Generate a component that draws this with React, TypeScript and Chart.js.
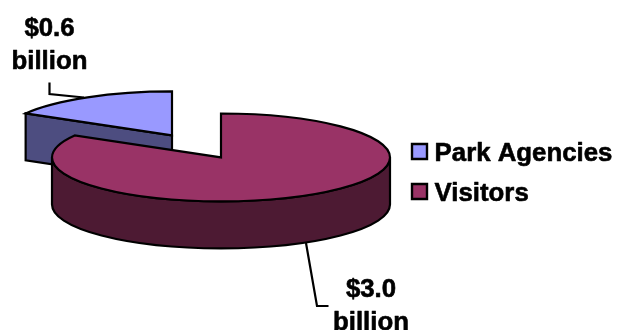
import React, { useEffect, useRef } from "react";
import { Chart, registerables } from "chart.js";

Chart.register(...registerables);

const categories = ["Park Agencies", "Visitors"];
const billions = [0.6, 3.0];
const topColors = ["#9999FF", "#993366"];
const wallColors = ["#4D4D80", "#4D1A33"];

const WIDTH = 617;
const HEIGHT = 330;
const FONT = "bold 25.8px 'Liberation Sans', Arial, sans-serif";
const INK = "#000000";
const LINE = 2.2;

// Projection of the flat pie onto a tilted disc
const RADIUS = 169;
const SQUASH = 0.26;
const EXPLODE = 49;
const DEPTH = 47;
const PIE_X = 196.5;
const PIE_Y = 146.4;
const TAU = Math.PI * 2;

type Slice = { cx: number; cy: number; start: number; end: number };

function sliceFrame(arc: any): Slice {
  const { startAngle: start, endAngle: end } = arc;
  const mid = (start + end) / 2;
  return {
    cx: PIE_X + Math.cos(mid) * EXPLODE,
    cy: PIE_Y + Math.sin(mid) * EXPLODE * SQUASH,
    start,
    end,
  };
}

function rimPoint(s: Slice, angle: number) {
  return { x: s.cx + Math.cos(angle) * RADIUS, y: s.cy + Math.sin(angle) * RADIUS * SQUASH };
}

// Front-facing parts of the rim: where the sine of the angle is positive
function frontSpans(s: Slice): [number, number][] {
  const spans: [number, number][] = [];
  const first = Math.floor(s.start / TAU) - 1;
  for (let n = first; n * TAU < s.end; n++) {
    const a = Math.max(s.start, n * TAU);
    const b = Math.min(s.end, n * TAU + Math.PI);
    if (b > a) spans.push([a, b]);
  }
  return spans;
}

function drawWalls(ctx: CanvasRenderingContext2D, s: Slice, fill: string) {
  ctx.fillStyle = fill;
  for (const angle of [s.start, s.end]) {
    const facing = angle === s.start ? -Math.cos(angle) : Math.cos(angle);
    if (facing <= 1e-6) continue;
    const p = rimPoint(s, angle);
    ctx.beginPath();
    ctx.moveTo(s.cx, s.cy);
    ctx.lineTo(p.x, p.y);
    ctx.lineTo(p.x, p.y + DEPTH);
    ctx.lineTo(s.cx, s.cy + DEPTH);
    ctx.closePath();
    ctx.fill();
    ctx.stroke();
  }
  for (const [a, b] of frontSpans(s)) {
    ctx.beginPath();
    ctx.ellipse(s.cx, s.cy, RADIUS, RADIUS * SQUASH, 0, a, b);
    ctx.ellipse(s.cx, s.cy + DEPTH, RADIUS, RADIUS * SQUASH, 0, b, a, true);
    ctx.closePath();
    ctx.fill();
    ctx.stroke();
  }
}

function outlineTop(ctx: CanvasRenderingContext2D, s: Slice) {
  ctx.beginPath();
  ctx.moveTo(s.cx, s.cy);
  ctx.ellipse(s.cx, s.cy, RADIUS, RADIUS * SQUASH, 0, s.start, s.end);
  ctx.closePath();
  ctx.stroke();
}

// Heavier-than-bold lettering: fill plus a thin stroke of the same ink
function heavyText(ctx: CanvasRenderingContext2D, text: string, x: number, y: number) {
  ctx.save();
  ctx.lineWidth = 0.6;
  ctx.lineJoin = "round";
  ctx.strokeStyle = INK;
  ctx.fillStyle = INK;
  ctx.strokeText(text, x, y);
  ctx.fillText(text, x, y);
  ctx.restore();
}

const tiltedPie = {
  id: "tiltedPie",
  beforeDatasetDraw(chart: any, args: any) {
    const ctx: CanvasRenderingContext2D = chart.ctx;
    const arcs = args.meta.data;
    const frames: Slice[] = arcs.map(sliceFrame);
    ctx.save();
    ctx.strokeStyle = INK;
    ctx.lineWidth = LINE;
    ctx.lineJoin = "miter";
    frames.forEach((s, i) => drawWalls(ctx, s, wallColors[i]));
    arcs.forEach((arc: any, i: number) => {
      const s = frames[i];
      ctx.save();
      ctx.translate(s.cx, s.cy);
      ctx.scale(1, SQUASH);
      ctx.translate(-arc.x, -arc.y);
      arc.draw(ctx);
      ctx.restore();
    });
    frames.forEach((s) => outlineTop(ctx, s));
    ctx.restore();
    return false;
  },
  afterDraw(chart: any) {
    const ctx: CanvasRenderingContext2D = chart.ctx;
    ctx.save();
    ctx.font = FONT;
    ctx.fillStyle = INK;
    ctx.strokeStyle = INK;
    ctx.lineWidth = LINE;
    ctx.textAlign = "center";
    ctx.textBaseline = "alphabetic";

    // Value callouts
    const callouts = [
      { x: 49.5, y: 36, gap: 33, leader: [[49.5, 82.5], [49.5, 94], [84, 97.5]] },
      { x: 371, y: 297, gap: 33, leader: [[306, 243], [317, 306], [328.5, 306]] },
    ];
    callouts.forEach((c, i) => {
      heavyText(ctx, `$${billions[i].toFixed(1)}`, c.x, c.y);
      heavyText(ctx, "billion", c.x, c.y + c.gap);
      ctx.beginPath();
      c.leader.forEach(([x, y], j) => (j ? ctx.lineTo(x, y) : ctx.moveTo(x, y)));
      ctx.stroke();
    });

    // Legend, with the swatches set close to their text
    ctx.textAlign = "left";
    const items = (Chart as any).overrides.pie.plugins.legend.labels.generateLabels(chart);
    items.forEach((item: any, i: number) => {
      const top = 144 + i * 40;
      ctx.fillStyle = item.fillStyle;
      ctx.lineWidth = 2.4;
      ctx.beginPath();
      ctx.rect(412, top, 15, 15);
      ctx.fill();
      ctx.stroke();
      heavyText(ctx, item.text, 434.6, 160.5 + i * 40.5);
    });
    ctx.restore();
  },
};

export default function App() {
  const canvasRef = useRef<HTMLCanvasElement | null>(null);

  useEffect(() => {
    const chart = new Chart(canvasRef.current as HTMLCanvasElement, {
      type: "pie",
      data: {
        labels: categories,
        datasets: [
          {
            data: billions,
            backgroundColor: topColors,
            borderWidth: 0,
            radius: RADIUS,
          } as any,
        ],
      },
      options: {
        responsive: false,
        animation: false,
        events: [],
        rotation: 300,
        layout: { padding: 0 },
        plugins: { legend: { display: false }, tooltip: { enabled: false } },
      },
      plugins: [tiltedPie],
    });
    return () => chart.destroy();
  }, []);

  return (
    <div style={{ position: "absolute", left: 0, top: 0, width: WIDTH, height: HEIGHT, background: "#fff" }}>
      <canvas ref={canvasRef} width={WIDTH} height={HEIGHT} style={{ display: "block" }} />
    </div>
  );
}
